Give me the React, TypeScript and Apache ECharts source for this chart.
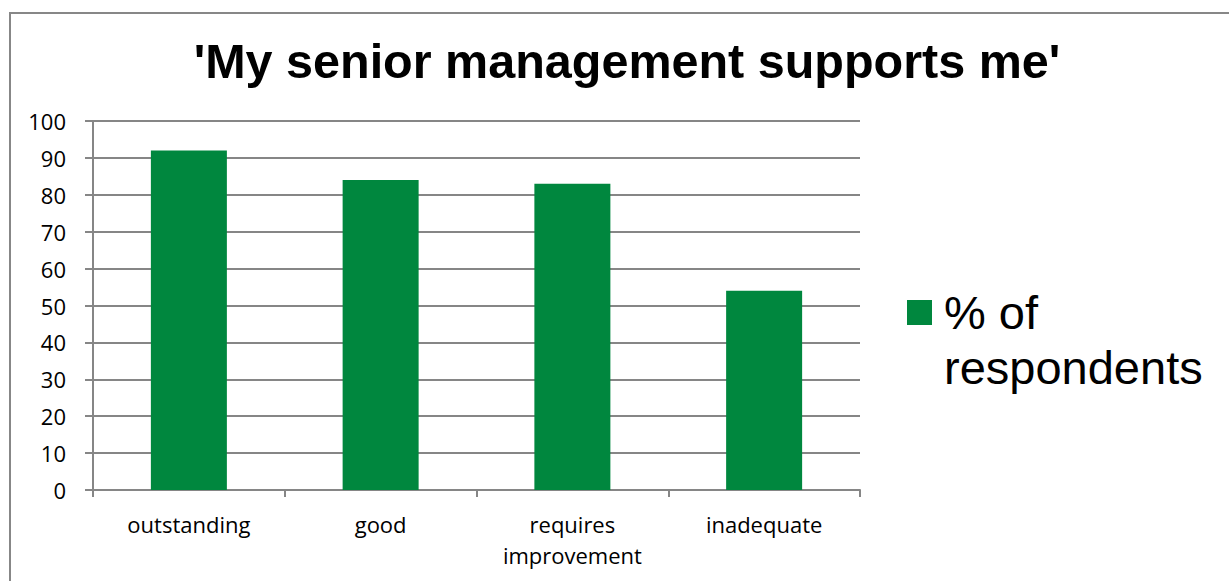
import React, { useEffect, useRef } from "react";
import * as echarts from "echarts";

const categories = ["outstanding", "good", "requires\nimprovement", "inadequate"];
const values = [92, 84, 83, 54];
const seriesName = "% of respondents";
const titleText = "'My senior management supports me'";

export default function App() {
  const ref = useRef<HTMLDivElement>(null);
  useEffect(() => {
    document.body.style.margin = "0";
    const chart = echarts.init(ref.current!, null, { renderer: "svg" });
    chart.setOption({
      animation: false,
      backgroundColor: "#ffffff",
      title: {
        text: titleText,
        left: 622,
        textAlign: "center",
        top: 31,
        textStyle: { fontFamily: "Liberation Sans", fontWeight: "bold", fontSize: 48.5, color: "#000" },
      },
      graphic: [
        {
          type: "rect",
          shape: { x: 10, y: 13, width: 1400, height: 800 },
          style: { fill: "none", stroke: "#878787", lineWidth: 2 },
          silent: true,
        },
      ],
      legend: {
        left: 907,
        top: 230,
        padding: 0,
        orient: "vertical",
        icon: "rect",
        itemWidth: 25,
        itemHeight: 25,
        formatter: () => "{g|}\n{a|% of}\n{a|respondents}",
        textStyle: {
          fontFamily: "Liberation Sans",
          fontSize: 47,
          lineHeight: 55,
          color: "#000",
          rich: {
            g: { fontSize: 47, lineHeight: 55, padding: [0, 0, 0, 7] },
            a: { fontFamily: "Liberation Sans", fontSize: 47, lineHeight: 55, color: "#000", padding: [0, 0, 0, 7] },
          },
        },
        data: [seriesName],
      },
      grid: { left: 93, right: 369, top: 121, bottom: 91, containLabel: false },
      xAxis: {
        type: "category",
        data: categories,
        axisLine: { lineStyle: { color: "#868686", width: 2 } },
        axisTick: { show: true, length: 7, lineStyle: { color: "#868686", width: 2 } },
        axisLabel: {
          fontFamily: "Open Sans",
          fontSize: 22,
          color: "#000",
          margin: 18,
          lineHeight: 31,
          interval: 0,
        },
      },
      yAxis: {
        type: "value",
        min: 0,
        max: 100,
        interval: 10,
        axisLine: { show: true, lineStyle: { color: "#868686", width: 2 } },
        axisTick: { show: true, length: 8, lineStyle: { color: "#868686", width: 2 } },
        splitLine: { lineStyle: { color: "#868686", width: 2 } },
        axisLabel: { fontFamily: "Open Sans", fontSize: 22, color: "#000", margin: 27 },
      },
      series: [
        {
          name: seriesName,
          type: "bar",
          data: values,
          barWidth: 76,
          itemStyle: { color: "#00873E" },
        },
      ],
    });
    return () => chart.dispose();
  }, []);
  return <div ref={ref} style={{ position: "absolute", left: 0, top: 0, width: 1229, height: 581 }} />;
}
